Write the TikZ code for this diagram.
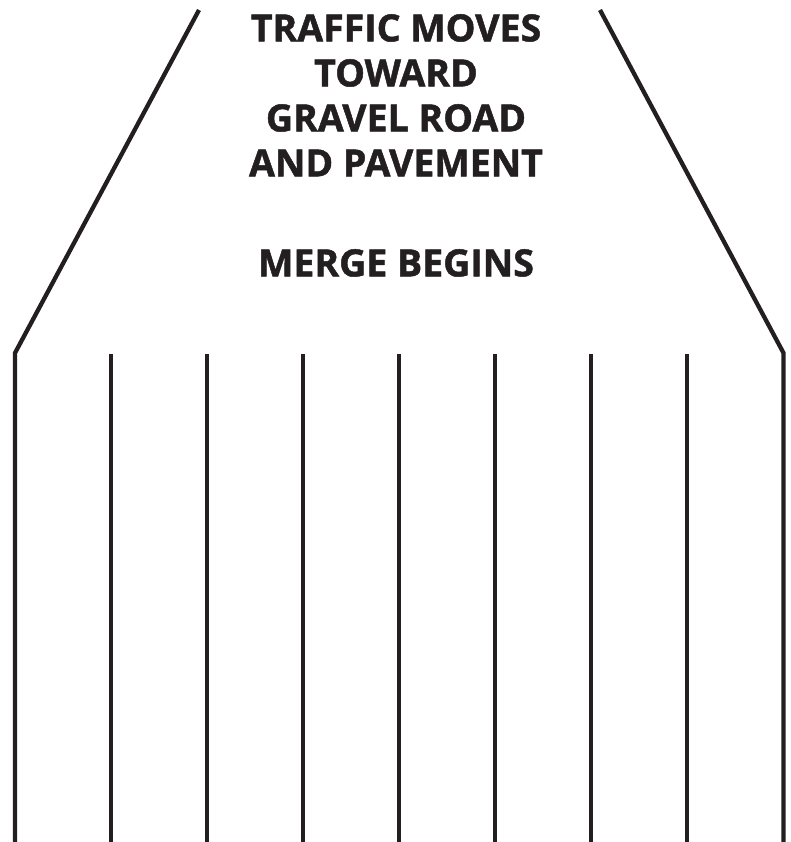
\documentclass[tikz,border=0pt]{standalone}
\usepackage{fontspec}
\setmainfont{Open Sans}[BoldFeatures={FakeBold=1.3}]
\begin{document}
\begin{tikzpicture}[x=1pt,y=-1pt,
  lane/.style={draw=ink,line width=4.3pt},
  sign/.style={font=\fontsize{37.5}{45}\selectfont\bfseries,text=ink,align=center,inner sep=0pt}]
\definecolor{ink}{HTML}{231F20}
\useasboundingbox (0,0) rectangle (791,842);
% outer edges of the road
\draw[lane] (199,10) -- (15,353) -- (15,842);
\draw[lane] (600,10) -- (783.5,353) -- (783.5,842);
% lane lines
\foreach \i in {1,...,7}
  \draw[lane] (15+96*\i,354) -- (15+96*\i,842);
\node[sign,anchor=north] (title) at (396,14) {TRAFFIC MOVES\\TOWARD\\GRAVEL ROAD\\AND PAVEMENT};
\node[sign,anchor=north] (merge) at (396,249) {MERGE BEGINS};
\end{tikzpicture}
\end{document}
